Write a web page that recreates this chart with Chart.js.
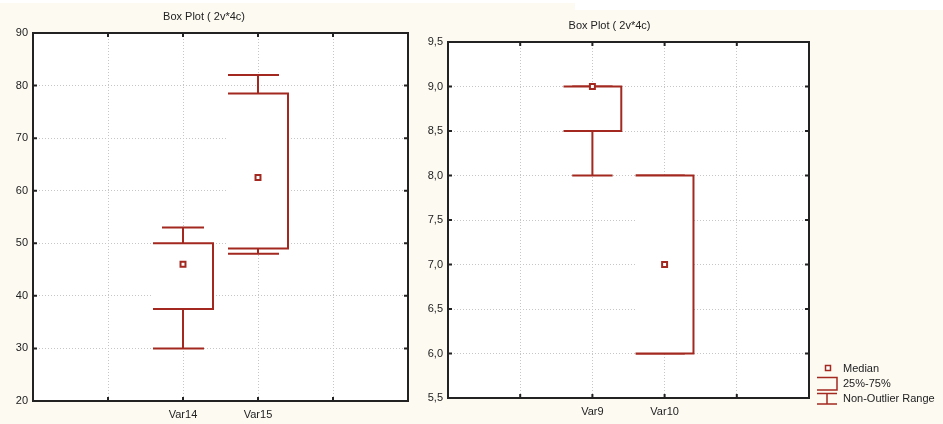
<!DOCTYPE html>
<html>
<head>
<meta charset="utf-8">
<title>Box Plot ( 2v*4c)</title>
<script src="https://cdn.jsdelivr.net/npm/chart.js@4.4.1/dist/chart.umd.min.js"></script>
<style>
  body { margin:0; width:943px; height:424px; background:#fff; position:relative; overflow:hidden;
         font-family:"Liberation Sans", Arial, Helvetica, sans-serif; }
  .bg { position:absolute; background:#fdfaf2; }
  canvas { position:absolute; top:0; }
  .lg { position:absolute; left:843px; font-size:11px; line-height:13px; color:#222; white-space:nowrap; }
  #lg-icons { position:absolute; left:810px; top:360px; }
</style>
</head>
<body>
<div class="bg" style="left:0;top:3px;width:575px;height:421px"></div>
<div class="bg" style="left:575px;top:10px;width:368px;height:414px"></div>
<canvas id="box-left" width="428" height="424" style="left:0"></canvas>
<canvas id="box-right" width="422" height="424" style="left:410px"></canvas>

<svg id="lg-icons" width="30" height="50">
  <rect x="15.5" y="5.5" width="5" height="5" fill="#fff" stroke="#a3281f" stroke-width="1.5"/>
  <path d="M7 17.5H27V30H7" fill="none" stroke="#a3281f" stroke-width="1.5"/>
  <path d="M7 33.5H27M17 33.5V44M7 44H27" fill="none" stroke="#a3281f" stroke-width="1.5"/>
</svg>
<div class="lg" style="top:362px">Median</div>
<div class="lg" style="top:377px">25%-75%</div>
<div class="lg" style="top:392px">Non-Outlier Range</div>

<script>
const RED = '#a3281f';
const INK = '#222';
const FONT = {family: '"Liberation Sans", Arial, Helvetica, sans-serif', size: 11};

// left plot
const leftCats = ['Var14', 'Var15'];
const leftMin = [30, 48];
const leftQ1 = [37.5, 49];
const leftMed = [46, 62.5];
const leftQ3 = [50, 78.5];
const leftMax = [53, 82];
const leftYTicks = ['20', '30', '40', '50', '60', '70', '80', '90'];

// right plot
const rightCats = ['Var9', 'Var10'];
const rightMin = [8, 6];
const rightQ1 = [8.5, 6];
const rightMed = [9, 7];
const rightQ3 = [9, 8];
const rightMax = [9, 8];
const rightYTicks = ['5,5', '6,0', '6,5', '7,0', '7,5', '8,0', '8,5', '9,0', '9,5'];

// box geometry, in x-axis units
const BOX_HALF = 0.4;
const CAP_RIGHT = 0.28;

function boxDatasets(s) {
  const sets = [{
    label: 'Median',
    data: s.med.map((v, i) => ({x: i + 2, y: v})),
    showLine: false,
    pointStyle: 'rect',
    pointRadius: 3.5,
    pointBorderWidth: 2,
    pointBorderColor: RED,
    pointBackgroundColor: '#fff'
  }];
  const line = {borderColor: RED, borderWidth: 2, pointRadius: 0, tension: 0, spanGaps: false,
                borderCapStyle: 'butt', borderJoinStyle: 'miter'};
  s.cats.forEach((c, i) => {
    const x = i + 2;
    sets.push(Object.assign({
      label: c + ' 25%-75%',
      data: [{x: x - BOX_HALF, y: s.q3[i]}, {x: x + BOX_HALF, y: s.q3[i]},
             {x: x + BOX_HALF, y: s.q1[i]}, {x: x - BOX_HALF, y: s.q1[i]}],
      backgroundColor: '#fff',
      fill: 'shape'
    }, line));
  });
  s.cats.forEach((c, i) => {
    const x = i + 2;
    const gap = {x: x, y: null};
    sets.push(Object.assign({
      label: c + ' Non-Outlier Range',
      data: [
        {x: x, y: s.q3[i]}, {x: x, y: s.max[i]}, gap,
        {x: x + s.capHi[i], y: s.max[i]}, {x: x + CAP_RIGHT, y: s.max[i]}, gap,
        {x: x, y: s.q1[i]}, {x: x, y: s.min[i]}, gap,
        {x: x + s.capLo[i], y: s.min[i]}, {x: x + CAP_RIGHT, y: s.min[i]}
      ],
      fill: false
    }, line));
  });
  return sets;
}

const framePlugin = {
  id: 'frame',
  beforeDraw(chart) {
    const {ctx, chartArea: a} = chart;
    ctx.save();
    ctx.fillStyle = '#fff';
    ctx.fillRect(a.left, a.top, a.width, a.height);
    ctx.restore();
  },
  afterDraw(chart) {
    const {ctx, chartArea: a, scales: {x, y}} = chart;
    ctx.save();
    ctx.strokeStyle = INK;
    ctx.lineWidth = 2;
    ctx.beginPath();
    x.ticks.forEach(t => {
      const px = x.getPixelForValue(t.value);
      ctx.moveTo(px, a.top); ctx.lineTo(px, a.top + 4);
      ctx.moveTo(px, a.bottom); ctx.lineTo(px, a.bottom - 4);
    });
    y.ticks.forEach(t => {
      const py = y.getPixelForValue(t.value);
      ctx.moveTo(a.left, py); ctx.lineTo(a.left + 4, py);
      ctx.moveTo(a.right, py); ctx.lineTo(a.right - 4, py);
    });
    ctx.stroke();
    ctx.strokeRect(a.left, a.top, a.width, a.height);
    ctx.restore();
  }
};

function makeChart(id, s, o) {
  return new Chart(document.getElementById(id), {
    type: 'line',
    data: {datasets: boxDatasets(s)},
    options: {
      responsive: false,
      animation: false,
      events: [],
      layout: {padding: {left: 0, right: o.padRight, top: 0, bottom: 0}},
      plugins: {
        legend: {display: false},
        tooltip: {enabled: false},
        title: {display: true, text: 'Box Plot ( 2v*4c)', color: INK,
                font: Object.assign({}, FONT, {weight: 'normal'}),
                padding: {top: o.titleTop, bottom: 9.4}}
      },
      scales: {
        x: {
          type: 'linear', min: 0, max: 5,
          afterFit: sc => { sc.height = o.xHeight; },
          ticks: {stepSize: 1, autoSkip: false, maxRotation: 0, padding: 7, color: INK, font: FONT,
                  callback: v => s.cats[v - 2] || ''},
          grid: {color: '#c6c6c6', drawTicks: false},
          border: {display: false, dash: [1, 2]}
        },
        y: {
          min: o.yMin, max: o.yMax,
          afterFit: sc => { sc.width = o.yWidth; },
          ticks: {stepSize: o.yStep, padding: 5, color: INK, font: FONT,
                  callback: (v, i) => s.yTicks[i]},
          grid: {color: '#c6c6c6', drawTicks: false},
          border: {display: false, dash: [1, 2]}
        }
      }
    },
    plugins: [framePlugin]
  });
}

makeChart('box-left', {
  cats: leftCats, min: leftMin, q1: leftQ1, med: leftMed, q3: leftQ3, max: leftMax,
  yTicks: leftYTicks, capHi: [-0.28, -0.4], capLo: [-0.4, -0.4]
}, {padRight: 20, titleTop: 10.4, xHeight: 23, yWidth: 33, yMin: 20, yMax: 90, yStep: 10});

makeChart('box-right', {
  cats: rightCats, min: rightMin, q1: rightQ1, med: rightMed, q3: rightQ3, max: rightMax,
  yTicks: rightYTicks, capHi: [-0.28, -0.4], capLo: [-0.28, -0.4]
}, {padRight: 23, titleTop: 19.4, xHeight: 26, yWidth: 38, yMin: 5.5, yMax: 9.5, yStep: 0.5});
</script>
</body>
</html>
